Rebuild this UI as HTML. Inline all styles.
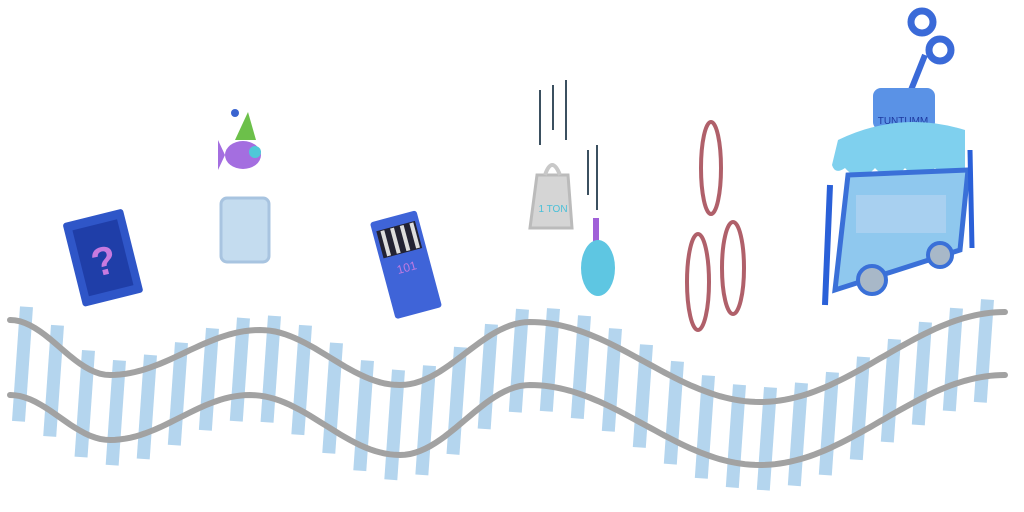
<!DOCTYPE html>
<html><head><meta charset="utf-8"><style>
html,body{margin:0;padding:0;background:#fff;width:1024px;height:512px;overflow:hidden}
svg{display:block}
</style></head><body>
<svg id="s" width="1024" height="512" viewBox="0 0 1024 512" xmlns="http://www.w3.org/2000/svg">
<g id="ties"></g>
<path id="rail1" fill="none" stroke="#a2a2a2" stroke-width="6" stroke-linecap="round"/>
<path id="rail2" fill="none" stroke="#a2a2a2" stroke-width="6" stroke-linecap="round"/>

<g transform="rotate(-14 102 258)">
<rect x="72" y="215" width="62" height="86" fill="#2f56c8" rx="3"/>
<rect x="80" y="224" width="46" height="68" fill="#1f3ea8"/>
<text x="103" y="275" font-family="Liberation Sans, sans-serif" font-size="40" font-weight="bold" fill="#c77adf" text-anchor="middle">?</text>
</g>

<g>
<polygon points="235,140 248,112 256,140" fill="#6cc04a"/>
<circle cx="235" cy="113" r="4" fill="#3a64d0"/>
<ellipse cx="243" cy="155" rx="18" ry="14" fill="#a46ee0"/>
<polygon points="225,155 218,140 218,170" fill="#a46ee0"/>
<circle cx="255" cy="152" r="6" fill="#4fc8d8"/>
</g>
<rect x="221" y="198" width="48" height="64" rx="6" fill="#c4dcef" stroke="#a8c4e0" stroke-width="3"/>

<g transform="rotate(-15 405 265)">
<rect x="382" y="215" width="48" height="100" fill="#3f64d8" rx="3"/>
<rect x="386" y="225" width="40" height="28" fill="#223" />
<g stroke="#ddd" stroke-width="4"><line x1="392" y1="226" x2="392" y2="252"/><line x1="402" y1="226" x2="402" y2="252"/><line x1="412" y1="226" x2="412" y2="252"/><line x1="422" y1="226" x2="422" y2="252"/></g>
<text x="406" y="272" font-family="Liberation Sans, sans-serif" font-size="12" fill="#c07ae0" text-anchor="middle">101</text>
</g>

<g>
<g stroke="#3b5060" stroke-width="2"><line x1="540" y1="90" x2="540" y2="145"/><line x1="553" y1="85" x2="553" y2="130"/><line x1="566" y1="80" x2="566" y2="140"/><line x1="597" y1="145" x2="597" y2="210"/><line x1="588" y1="150" x2="588" y2="195"/></g>
<path d="M537 175 L568 175 L572 228 L530 228 Z" fill="#d5d5d5" stroke="#bbb" stroke-width="3"/>
<path d="M545 175 Q552 155 560 175" fill="none" stroke="#c8c8c8" stroke-width="4"/>
<text x="553" y="212" font-family="Liberation Sans, sans-serif" font-size="10" fill="#4ac0d8" text-anchor="middle">1 TON</text>
</g>

<g>
<rect x="593" y="218" width="6" height="24" fill="#a060d8"/>
<ellipse cx="598" cy="268" rx="17" ry="28" fill="#5ec6e2"/>
</g>

<g fill="none" stroke="#b0606a" stroke-width="4">
<ellipse cx="711" cy="168" rx="10" ry="46"/>
<ellipse cx="698" cy="282" rx="11" ry="48"/>
<ellipse cx="733" cy="268" rx="11" ry="46"/>
</g>

<g>
<line x1="905" y1="105" x2="925" y2="55" stroke="#3a6ad8" stroke-width="6"/>
<circle cx="922" cy="22" r="11" fill="none" stroke="#3a6ad8" stroke-width="7"/>
<circle cx="940" cy="50" r="11" fill="none" stroke="#3a6ad8" stroke-width="7"/>
<rect x="873" y="88" width="62" height="42" rx="8" fill="#5a92e6"/>
<text x="903" y="124" font-family="Liberation Sans, sans-serif" font-size="10" fill="#1e3aa0" text-anchor="middle">TUNTUMM</text>
<path d="M838 140 Q900 110 965 130 L965 170 Q950 185 935 168 Q920 185 905 168 Q890 185 875 168 Q860 185 845 168 Q835 175 832 165 Z" fill="#7fd0ee"/>
<path d="M848 175 L968 170 L960 250 L835 290 Z" fill="#8fc8ee" stroke="#3a70d8" stroke-width="5"/>
<rect x="856" y="195" width="90" height="38" fill="#a8d0f0"/>
<circle cx="872" cy="280" r="14" fill="#a8b8c8" stroke="#3a70d8" stroke-width="4"/>
<circle cx="940" cy="255" r="12" fill="#a8b8c8" stroke="#3a70d8" stroke-width="4"/>
<line x1="830" y1="185" x2="825" y2="305" stroke="#2a60d8" stroke-width="6"/>
<line x1="970" y1="150" x2="972" y2="248" stroke="#2a60d8" stroke-width="5"/>
</g>
</svg>
<script>
const railTopX=[10,110,260,400,530,760,1005];
const railTopY=[320,375,330,385,322,402,312];
const railBotX=[10,110,250,400,530,760,1005];
const railBotY=[395,440,395,455,385,465,375];
function f(xs,ys,x){for(let i=0;i<xs.length-1;i++){if(x<=xs[i+1]){const t=(x-xs[i])/(xs[i+1]-xs[i]);const u=(1-Math.cos(Math.PI*t))/2;return ys[i]+(ys[i+1]-ys[i])*u;}}return ys[ys.length-1];}
function path(xs,ys){let d='';for(let x=xs[0];x<=xs[xs.length-1];x+=5){d+=(d?'L':'M')+x+' '+f(xs,ys,x).toFixed(1);}return d;}
document.getElementById('rail1').setAttribute('d',path(railTopX,railTopY));
document.getElementById('rail2').setAttribute('d',path(railBotX,railBotY));
const g=document.getElementById('ties');
for(let x=20;x<1000;x+=31){
 const t=f(railTopX,railTopY,x)-15,b=f(railBotX,railBotY,x)+25;
 const r=document.createElementNS('http://www.w3.org/2000/svg','rect');
 
 
 r.setAttribute('x',x);r.setAttribute('y',t);r.setAttribute('width',13);r.setAttribute('height',b-t);
 r.setAttribute('fill','#b4d5ee');r.setAttribute('transform','rotate(4 '+x+' '+t+')');
 g.appendChild(r);
}
</script>
</body></html>
